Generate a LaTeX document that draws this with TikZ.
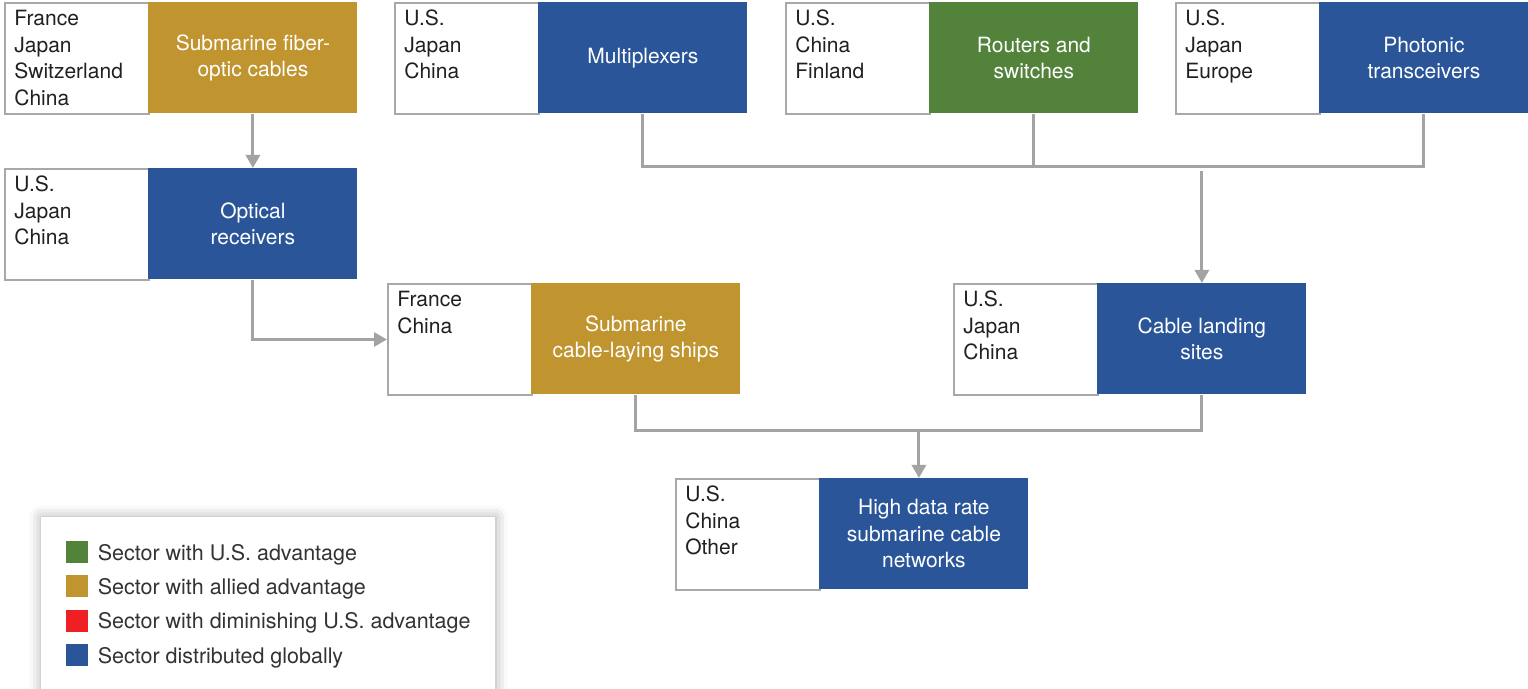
\documentclass[tikz,border=0pt]{standalone}
\usepackage{fontspec}
\setmainfont{TeX Gyre Heros}
\usetikzlibrary{arrows.meta,calc,shadows.blur}
\definecolor{secgold}{HTML}{C0942F}
\definecolor{secblue}{HTML}{2A5699}
\definecolor{secgreen}{HTML}{53823B}
\definecolor{secred}{HTML}{EE2024}
\definecolor{linegray}{HTML}{A3A3A3}
\definecolor{boxgray}{HTML}{A8A8A8}
\definecolor{textdark}{HTML}{231F20}
\definecolor{legtext}{HTML}{333333}

% one sector: a white box listing the leading countries and a coloured box naming the sector
% #1 name, #2/#3 top-left corner (px), #4 colour, #5 countries, #6 sector
\newcommand\sectorpair[6]{%
  \node[countries] (#1l) at (#2,#3) {};
  \node[sector=#4] (#1c) at (#2+144,#3) {#6};
  \node[clist] (#1t) at ($(#1l.north west)+(10,24)$) {\parbox[t]{66pt}{\raggedright #5}};
}

\begin{document}
\begin{tikzpicture}[x=0.5pt,y=-0.5pt,
  font=\fontsize{10.5}{13.25}\selectfont,
  sector/.style={fill=#1, draw=none, minimum width=104.5pt, minimum height=55.5pt,
    inner sep=0pt, text=white, align=center, anchor=north west},
  countries/.style={fill=white, draw=boxgray, line width=1pt, minimum width=72pt,
    minimum height=55.5pt, inner sep=0pt, anchor=north west},
  clist/.style={anchor=base west, inner sep=0pt, text=textdark},
  conn/.style={draw=linegray, line width=1.5pt},
  arr/.style={conn, -{Triangle[width=7pt,length=6.5pt]}},
  legsq/.style={minimum size=11pt, inner sep=0pt, draw=none},
  legentry/.style={anchor=west, inner sep=0pt, text=legtext, xshift=4.5pt, yshift=-1.25pt,
    font=\fontsize{10.75}{13}\selectfont},
]
\useasboundingbox (0,0) rectangle (1528,689);

% sectors
\sectorpair{A}{4}{2}{secgold}{France\\Japan\\Switzerland\\China}{Submarine fiber-\\optic cables}
\sectorpair{B}{394}{2}{secblue}{U.S.\\Japan\\China}{Multiplexers}
\sectorpair{C}{785}{2}{secgreen}{U.S.\\China\\Finland}{Routers and\\switches}
\sectorpair{D}{1175}{2}{secblue}{U.S.\\Japan\\Europe}{Photonic\\transceivers}
\sectorpair{O}{4}{168}{secblue}{U.S.\\Japan\\China}{Optical\\receivers}
\sectorpair{S}{387}{283}{secgold}{France\\China}{Submarine\\cable-laying ships}
\sectorpair{L}{953}{283}{secblue}{U.S.\\Japan\\China}{Cable landing\\sites}
\sectorpair{H}{675}{478}{secblue}{U.S.\\China\\Other}{High data rate\\submarine cable\\networks}

% connectors
\draw[arr] (Ac.south) -- (Oc.north);
\draw[arr] (Oc.south) |- (Sl.west);

\coordinate (jt) at (0,167);
\draw[conn] (Bc.south) -- (Bc.south |- jt) -- (Dc.south |- jt) -- (Dc.south);
\draw[conn] (Cc.south) -- (Cc.south |- jt);
\coordinate (ja) at (1202,171);
\draw[arr] (ja -| Lc.north) -- (Lc.north);

\coordinate (jb) at (0,431);
\draw[conn] (Sc.south) -- (Sc.south |- jb) -- (Lc.south |- jb) -- (Lc.south);
\coordinate (jm) at ($(Sc.south |- jb)!0.5!(Lc.south |- jb)$);
\draw[arr] (jm) -- (jm |- Hc.north);

% legend
\node[fill=white, draw=none, minimum width=227pt, minimum height=91.5pt, inner sep=0pt,
  anchor=north west,
  blur shadow={shadow xshift=0pt, shadow yshift=0pt, shadow blur radius=6pt, shadow opacity=35}]
  (legend) at (41,517) {};
\foreach \c/\t [count=\i] in {secgreen/Sector with U.S. advantage,
    secgold/Sector with allied advantage,
    secred/Sector with diminishing U.S. advantage,
    secblue/Sector distributed globally} {
  \node[legsq, fill=\c] (sq\i) at (77, 552+34.3*\i-34.3) {};
  \node[legentry] (lt\i) at (sq\i.east) {\t};
}
\end{tikzpicture}
\end{document}
